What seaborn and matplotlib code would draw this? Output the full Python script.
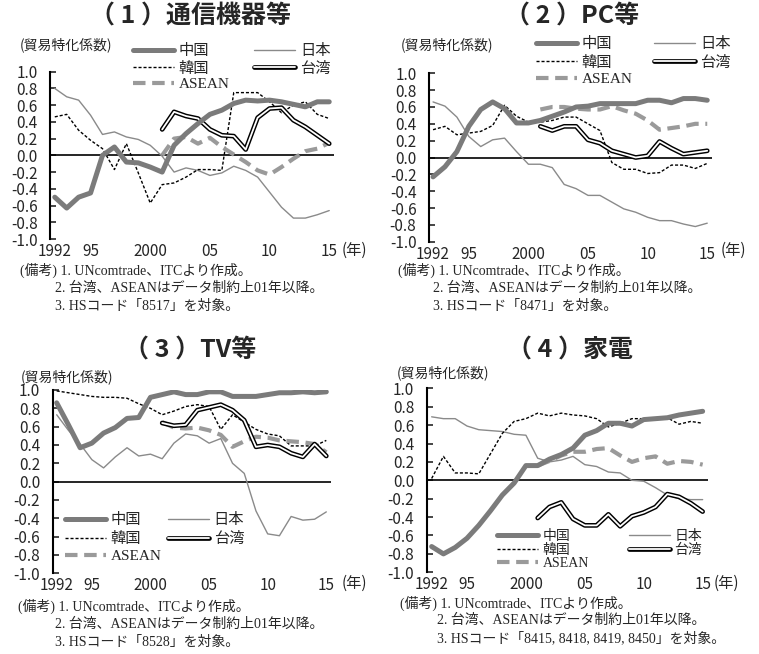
import numpy as np
import pandas as pd
import matplotlib
matplotlib.use("Agg")
import matplotlib.pyplot as plt
import matplotlib.patheffects as pe
from matplotlib.lines import Line2D
import seaborn as sns

sns.set_style("white")
plt.rcParams['font.family'] = ['Noto Sans CJK JP', 'DejaVu Sans']

years_all = list(range(1992, 2016))
years_late = list(range(2001, 2016))

# (1) 通信機器等
p1_china = [-0.50, -0.63, -0.50, -0.45, 0.00, 0.10, -0.08, -0.09, -0.14, -0.20, 0.12, 0.26,
            0.38, 0.49, 0.54, 0.62, 0.66, 0.65, 0.66, 0.64, 0.61, 0.58, 0.64, 0.64]
p1_japan = [0.80, 0.70, 0.66, 0.48, 0.25, 0.28, 0.22, 0.19, 0.12, -0.01, -0.20, -0.15,
            -0.18, -0.24, -0.21, -0.13, -0.18, -0.26, -0.44, -0.62, -0.75, -0.75, -0.71, -0.66]
p1_korea = [0.46, 0.49, 0.30, 0.18, 0.08, -0.17, 0.14, -0.21, -0.57, -0.35, -0.33, -0.26,
            -0.17, -0.17, -0.18, 0.75, 0.75, 0.75, 0.64, 0.51, 0.60, 0.64, 0.49, 0.44]
p1_taiwan = [0.31, 0.52, 0.47, 0.44, 0.31, 0.24, 0.23, 0.07, 0.45, 0.56, 0.57, 0.42, 0.34, 0.24, 0.14]
p1_asean = [0.00, 0.20, 0.22, 0.14, 0.21, 0.10, 0.01, -0.08, -0.18, -0.23, -0.14, -0.04, 0.05, 0.08, 0.15]

# (2) PC等
p2_china = [-0.23, -0.11, 0.07, 0.37, 0.57, 0.66, 0.58, 0.41, 0.41, 0.44, 0.49, 0.54,
            0.60, 0.61, 0.64, 0.64, 0.64, 0.64, 0.68, 0.68, 0.65, 0.70, 0.70, 0.68]
p2_japan = [0.66, 0.61, 0.48, 0.25, 0.13, 0.21, 0.23, 0.07, -0.08, -0.08, -0.12, -0.32,
            -0.37, -0.45, -0.45, -0.53, -0.61, -0.65, -0.71, -0.75, -0.75, -0.79, -0.82, -0.78]
p2_korea = [0.33, 0.37, 0.27, 0.29, 0.31, 0.38, 0.62, 0.49, 0.42, 0.42, 0.44, 0.48,
            0.48, 0.40, 0.32, -0.06, -0.14, -0.14, -0.19, -0.18, -0.09, -0.09, -0.13, -0.07]
p2_taiwan = [0.37, 0.32, 0.37, 0.37, 0.21, 0.17, 0.08, 0.04, 0.00, 0.02, 0.19, 0.11, 0.04, 0.06, 0.08]
p2_asean = [0.57, 0.60, 0.60, 0.58, 0.57, 0.57, 0.61, 0.56, 0.52, 0.44, 0.33, 0.35, 0.37, 0.40, 0.40]

# (3) TV等
p3_china = [0.86, 0.62, 0.37, 0.42, 0.53, 0.59, 0.69, 0.70, 0.92, 0.95, 0.98, 0.95,
            0.95, 0.98, 0.98, 0.93, 0.93, 0.93, 0.95, 0.97, 0.97, 0.98, 0.97, 0.98]
p3_japan = [0.73, 0.56, 0.41, 0.24, 0.15, 0.27, 0.37, 0.28, 0.30, 0.25, 0.42, 0.52,
            0.50, 0.42, 0.47, 0.20, 0.09, -0.32, -0.57, -0.59, -0.38, -0.42, -0.41, -0.33]
p3_korea = [0.99, 0.97, 0.95, 0.93, 0.92, 0.92, 0.91, 0.85, 0.80, 0.73, 0.77, 0.82,
            0.84, 0.82, 0.57, 0.73, 0.65, 0.57, 0.52, 0.50, 0.39, 0.39, 0.39, 0.45]
p3_taiwan = [0.64, 0.61, 0.62, 0.78, 0.81, 0.84, 0.78, 0.67, 0.38, 0.40, 0.38, 0.31, 0.27, 0.41, 0.28]
p3_asean = [0.65, 0.59, 0.58, 0.59, 0.56, 0.51, 0.38, 0.44, 0.49, 0.48, 0.45, 0.44, 0.43, 0.41, 0.32]

# (4) 家電
p4_china = [-0.72, -0.80, -0.73, -0.63, -0.49, -0.33, -0.16, -0.03, 0.16, 0.16, 0.23, 0.28,
            0.35, 0.49, 0.54, 0.62, 0.62, 0.59, 0.66, 0.67, 0.68, 0.71, 0.73, 0.75]
p4_japan = [0.69, 0.67, 0.67, 0.59, 0.55, 0.54, 0.53, 0.50, 0.49, 0.24, 0.20, 0.22,
            0.26, 0.17, 0.15, 0.09, 0.08, 0.00, -0.01, -0.08, -0.16, -0.20, -0.21, -0.21]
p4_korea = [0.02, 0.26, 0.08, 0.08, 0.07, 0.29, 0.51, 0.64, 0.67, 0.73, 0.70, 0.73,
            0.71, 0.70, 0.67, 0.58, 0.62, 0.67, 0.67, 0.68, 0.68, 0.61, 0.64, 0.62]
p4_taiwan = [-0.41, -0.29, -0.24, -0.42, -0.49, -0.49, -0.37, -0.50, -0.39, -0.35, -0.29, -0.15, -0.18, -0.25, -0.34]
p4_asean = [0.16, 0.21, 0.27, 0.31, 0.31, 0.34, 0.35, 0.27, 0.20, 0.24, 0.26, 0.18, 0.21, 0.20, 0.17]

titles = ["（ 1 ）通信機器等", "（ 2 ）PC等", "（ 3 ）TV等", "（ 4 ）家電"]
hs_codes = ["「8517」", "「8471」", "「8528」", "「8415, 8418, 8419, 8450」"]
labels = ["中国", "韓国", "ASEAN", "日本", "台湾"]
xtick_vals = [1992, 1995, 2000, 2005, 2010, 2015]
xtick_labels = ["1992", "95", "2000", "05", "10", "15"]
ytick_vals = [1.0, 0.8, 0.6, 0.4, 0.2, 0.0, -0.2, -0.4, -0.6, -0.8, -1.0]

panels = [
    (p1_china, p1_japan, p1_korea, p1_taiwan, p1_asean),
    (p2_china, p2_japan, p2_korea, p2_taiwan, p2_asean),
    (p3_china, p3_japan, p3_korea, p3_taiwan, p3_asean),
    (p4_china, p4_japan, p4_korea, p4_taiwan, p4_asean),
]

W, H = 759, 654
fig = plt.figure(figsize=(W / 100, H / 100), dpi=100)

# layout in pixels: left, right, top, bottom, xmin, xmax
ax_px = [
    (50, 334, 71.7, 239.0, 1991.6, 2015.4),
    (429, 712, 73.3, 241.7, 1991.66, 2015.4),
    (52.7, 331, 390.0, 573.3, 1991.66, 2015.4),
    (426.7, 708.3, 388.3, 572.3, 1991.58, 2015.48),
]
title_pos = [(190, 16), (572, 16), (190, 350), (570, 350)]
ylab_pos = [(20, 45), (401, 45), (21, 377), (397, 373)]
nen_pos = [(342, 250), (721, 250), (342, 583), (714, 583)]
legend_pos = [(133, 42), (536, 35), (65, 511), (497, 529)]
legend_fs = [11, 11, 11, 10]
legend_ls = [0.05, 0.12, 0.15, 0.0]
legend_cs = [1.6, 1.4, 0.4, 2.9]
note_pos = [(20, 270, 55), (398, 270, 433), (18, 606, 55), (400, 603, 437)]
note_gap = [18, 18, 18, 17.5]

c_china = "#7b7b7b"
c_japan = "#8a8a8a"
c_asean = "#9a9a9a"
serif_mix = ['Liberation Serif', 'Noto Sans CJK JP']

def fx(x):
    return x / W

def fy(y):
    return 1 - y / H

for i, (china, japan, korea, taiwan, asean) in enumerate(panels):
    l, r, t, b, xmin, xmax = ax_px[i]
    ax = fig.add_axes([fx(l), fy(b), (r - l) / W, (b - t) / H])
    ax.set_xlim(xmin, xmax)
    ax.set_ylim(-1.0, 1.0)

    ax.axhline(0, color="black", lw=1.2, zorder=1)

    sns.lineplot(x=years_all, y=japan, ax=ax, color=c_japan, lw=1.0, zorder=2)
    sns.lineplot(x=years_all, y=korea, ax=ax, color="black", lw=1.0, zorder=3)
    ax.lines[-1].set_dashes((2.2, 1.4))
    sns.lineplot(x=years_late, y=asean, ax=ax, color=c_asean, lw=3.0, zorder=4)
    ax.lines[-1].set_dashes((3.0, 1.6))
    sns.lineplot(x=years_late, y=taiwan, ax=ax, color="white", lw=1.3, zorder=5)
    ax.lines[-1].set_path_effects([pe.Stroke(linewidth=3.4, foreground="black"), pe.Normal()])
    sns.lineplot(x=years_all, y=china, ax=ax, color=c_china, lw=3.6, zorder=6)

    for s in ["top", "right", "bottom"]:
        ax.spines[s].set_visible(False)
    ax.spines["left"].set_linewidth(1.5)
    ax.spines["left"].set_color("black")

    ax.set_yticks(ytick_vals)
    ax.set_yticklabels(["%.1f" % v for v in ytick_vals], fontsize=11)
    ax.tick_params(axis="y", direction="in", length=4, width=1.2, pad=9, left=True)
    ax.set_xticks(xtick_vals)
    ax.set_xticklabels(xtick_labels, fontsize=11)
    ax.tick_params(axis="x", length=0, pad=3)
    ax.set_xlabel("")
    ax.set_ylabel("")
    ax.grid(False)

    handles = [
        Line2D([], [], color=c_china, lw=3.6),
        Line2D([], [], color="black", lw=1.0, dashes=(2.2, 1.4)),
        Line2D([], [], color=c_asean, lw=3.0, dashes=(3.0, 1.6)),
        Line2D([], [], color=c_japan, lw=1.0),
        Line2D([], [], color="white", lw=1.3,
               path_effects=[pe.Stroke(linewidth=3.4, foreground="black"), pe.Normal()]),
    ]
    lx, ly = legend_pos[i]
    fs = legend_fs[i]
    leg = ax.legend(handles, labels, ncol=2, loc="upper left",
                    bbox_to_anchor=(fx(lx), fy(ly)), bbox_transform=fig.transFigure,
                    frameon=False, fontsize=fs, handlelength=2.7 * 11 / fs,
                    handletextpad=0.3, columnspacing=legend_cs[i],
                    labelspacing=legend_ls[i], borderpad=0, borderaxespad=0)
    leg.get_texts()[2].set_fontfamily(serif_mix)

    tx, ty = title_pos[i]
    fig.text(fx(tx), fy(ty), titles[i], ha="center", va="center", fontsize=18,
             fontweight="bold")
    yx, yy = ylab_pos[i]
    fig.text(fx(yx), fy(yy), "(貿易特化係数)", ha="left", va="center", fontsize=10)
    nx, ny = nen_pos[i]
    fig.text(fx(nx), fy(ny), "(年)", ha="left", va="center", fontsize=11)

    bx, by, ix = note_pos[i]
    g = note_gap[i]
    fig.text(fx(bx), fy(by), "(備考) 1. UNcomtrade、ITCより作成。", ha="left", va="center",
             fontsize=10, family=serif_mix)
    fig.text(fx(ix), fy(by + g), "2. 台湾、ASEANはデータ制約上01年以降。", ha="left",
             va="center", fontsize=10, family=serif_mix)
    fig.text(fx(ix), fy(by + 2 * g), "3. HSコード" + hs_codes[i] + "を対象。", ha="left",
             va="center", fontsize=10, family=serif_mix)

fig.savefig("out.png", dpi=100)
